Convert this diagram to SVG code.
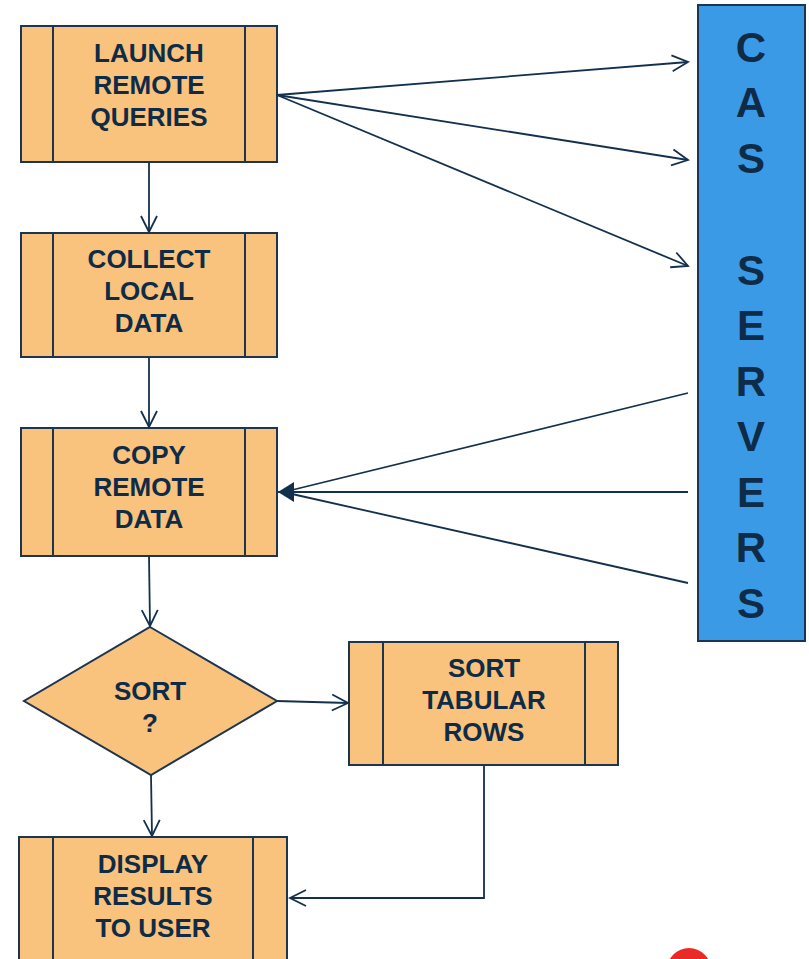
<svg xmlns="http://www.w3.org/2000/svg" width="809" height="959" viewBox="0 0 809 959">
<style>
.box{fill:#F9C27D;stroke:#1C3550;stroke-width:2}
.div{stroke:#1C3550;stroke-width:2}
.t{font-family:"Liberation Sans",Arial,sans-serif;font-weight:bold;font-size:26px;fill:#0E2B47;text-anchor:middle}
.cas{font-family:"Liberation Sans",Arial,sans-serif;font-weight:bold;font-size:42px;fill:#0E2B47;text-anchor:middle}
.c{fill:none;stroke:#13304D;stroke-width:1.8}
</style>
<defs>
<marker id="open" markerWidth="20" markerHeight="20" viewBox="0 0 20 20" refX="18" refY="10" orient="auto" markerUnits="userSpaceOnUse">
<path d="M2,2 L18,10 L2,18" fill="none" stroke="#13304D" stroke-width="1.8"/>
</marker>
<marker id="fill" markerWidth="18" markerHeight="22" viewBox="0 0 18 22" refX="17" refY="11" orient="auto" markerUnits="userSpaceOnUse">
<path d="M1,1 L17,11 L1,21 Z" fill="#13304D"/>
</marker>
</defs>
<g id="cas-servers">
<rect x="698" y="5" width="107" height="636" fill="#3B9AE6" stroke="#1C3550" stroke-width="2"/>
<text class="cas" x="751" y="62">C</text>
<text class="cas" x="751" y="117">A</text>
<text class="cas" x="751" y="173">S</text>
<text class="cas" x="751" y="285">S</text>
<text class="cas" x="751" y="340">E</text>
<text class="cas" x="751" y="396">R</text>
<text class="cas" x="751" y="451">V</text>
<text class="cas" x="751" y="507">E</text>
<text class="cas" x="751" y="562">R</text>
<text class="cas" x="751" y="618">S</text>
</g>
<g id="launch">
<rect class="box" x="21" y="26" width="256" height="136"/>
<line class="div" x1="53" y1="26" x2="53" y2="162"/><line class="div" x1="245" y1="26" x2="245" y2="162"/>
<text class="t" x="149" y="62">LAUNCH</text><text class="t" x="149" y="94">REMOTE</text><text class="t" x="149" y="126">QUERIES</text>
</g>
<g id="collect">
<rect class="box" x="21" y="233" width="256" height="124"/>
<line class="div" x1="53" y1="233" x2="53" y2="357"/><line class="div" x1="245" y1="233" x2="245" y2="357"/>
<text class="t" x="149" y="268">COLLECT</text><text class="t" x="149" y="300">LOCAL</text><text class="t" x="149" y="332">DATA</text>
</g>
<g id="copy">
<rect class="box" x="21" y="428" width="256" height="128"/>
<line class="div" x1="53" y1="428" x2="53" y2="556"/><line class="div" x1="245" y1="428" x2="245" y2="556"/>
<text class="t" x="149" y="464">COPY</text><text class="t" x="149" y="496">REMOTE</text><text class="t" x="149" y="528">DATA</text>
</g>
<g id="sort-decision">
<polygon class="box" points="150,627 277,701 151,775 24,701"/>
<text class="t" x="150" y="700">SORT</text><text class="t" x="150" y="732">?</text>
</g>
<g id="sort-rows">
<rect class="box" x="349" y="642" width="269" height="123"/>
<line class="div" x1="383" y1="642" x2="383" y2="765"/><line class="div" x1="585" y1="642" x2="585" y2="765"/>
<text class="t" x="484" y="677">SORT</text><text class="t" x="484" y="709">TABULAR</text><text class="t" x="484" y="741">ROWS</text>
</g>
<g id="display">
<rect class="box" x="19" y="837" width="268" height="130"/>
<line class="div" x1="53" y1="837" x2="53" y2="967"/><line class="div" x1="253" y1="837" x2="253" y2="967"/>
<text class="t" x="153" y="873">DISPLAY</text><text class="t" x="153" y="905">RESULTS</text><text class="t" x="153" y="937">TO USER</text>
</g>
<g id="connectors">
<line class="c" x1="277" y1="95" x2="688" y2="62" marker-end="url(#open)"/>
<line class="c" x1="277" y1="95" x2="688" y2="160" marker-end="url(#open)"/>
<line class="c" x1="277" y1="95" x2="688" y2="266" marker-end="url(#open)"/>
<line class="c" x1="149" y1="162" x2="149" y2="232" marker-end="url(#open)"/>
<line class="c" x1="149" y1="357" x2="149" y2="427" marker-end="url(#open)"/>
<line class="c" x1="149" y1="556" x2="150" y2="626" marker-end="url(#open)"/>
<line class="c" x1="151" y1="775" x2="152" y2="836" marker-end="url(#open)"/>
<line class="c" x1="277" y1="701" x2="348" y2="703" marker-end="url(#open)"/>
<polyline class="c" points="484,765 484,898 290,898" marker-end="url(#open)"/>
<line class="c" x1="688" y1="393" x2="292" y2="490"/>
<line class="c" x1="688" y1="583" x2="292" y2="494"/>
<line class="c" x1="688" y1="492" x2="278" y2="492" marker-end="url(#fill)"/>
</g>
<circle cx="689" cy="970" r="22" fill="#EA2A26"/>
</svg>
